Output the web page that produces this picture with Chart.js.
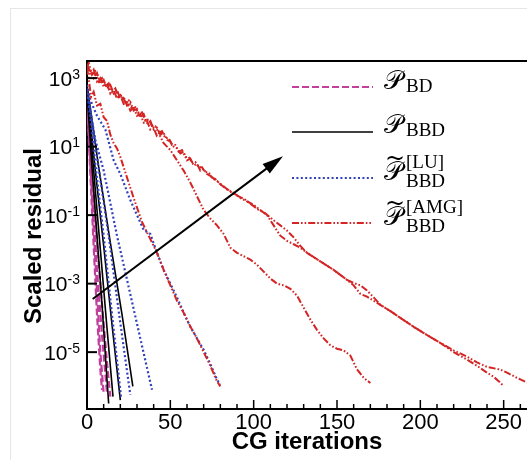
<!DOCTYPE html>
<html><head><meta charset="utf-8">
<script src="https://cdn.jsdelivr.net/npm/chart.js@4"></script>
<style>html,body{margin:0;padding:0;background:#fff;}</style>
</head><body>
<canvas id="c" width="527" height="460"></canvas>
<script>
// ---------- axes / ticks ----------
const xMin = 0, xMax = 264;
const yMinExp = -6.66, yMaxExp = 3.5;
const xTickValues = [0, 50, 100, 150, 200, 250];
const xMinorTicks = [10,20,30,40,60,70,80,90,110,120,130,140,160,170,180,190,210,220,230,240,260];
const yTickExponents = [3, 1, -1, -3, -5];
const xTitle = 'CG iterations';
const yTitle = 'Scaled residual';

// ---------- series: iterations and log10(scaled residual) ----------
// P_BD (magenta dashed)
const bdIters = [
  [0, 2, 4, 6, 8, 9],
  [0, 2, 4, 6, 8, 10],
  [0, 3, 6, 9, 12],
  [0, 3, 6, 9, 12, 14]
];
const bdLogRes = [
  [2.4, 0.2, -1.9, -3.9, -5.5, -6.1],
  [2.5, 0.5, -1.4, -3.2, -5.0, -6.2],
  [2.5, -0.1, -2.6, -4.5, -6.2],
  [2.6, 0.3, -1.8, -3.6, -5.3, -6.3]
];
// P_BBD (black solid)
const bbdIters = [
  [0, 3, 6, 9, 12, 13],
  [0, 4, 8, 12, 15.6],
  [0, 5, 10, 15, 20],
  [0, 7, 14, 21, 27.5]
];
const bbdLogRes = [
  [2.6, 0.4, -1.6, -3.6, -5.8, -6.5],
  [2.7, 0.3, -2.0, -4.3, -6.3],
  [2.7, 0.3, -1.9, -4.2, -6.4],
  [2.8, 0.4, -1.8, -3.9, -6.0]
];
// P~_BBD^[LU] (blue dotted)
const luIters = [
  [0, 5, 10, 15, 20.4],
  [0, 6, 13, 19, 26],
  [0, 5, 10, 18, 25, 32, 39],
  [0, 2, 6, 11, 16, 20, 26, 30, 34, 38, 42, 46, 50, 54, 58, 62, 66, 70, 74, 78, 80]
];
const luLogRes = [
  [2.7, 0.5, -1.6, -3.9, -6.3],
  [2.8, 0.7, -1.6, -3.8, -6.25],
  [2.6, 1.2, 0.3, -1.6, -3.1, -4.6, -6.1],
  [2.8, 2.36, 1.9, 1.5, 0.6, 0.2, -0.56, -1.0, -1.43, -1.55, -2.1, -2.6, -3.0, -3.4, -3.85, -4.26, -4.6, -4.93, -5.35, -5.8, -5.95]
];
// P~_BBD^[AMG] (red dash-dot-dot)
const amgIters = [
  [0,1,2.4,4,6,8,10,12,14,16,18,20,24,28,33,38,42,46,50,54,58,62,66,70,74,78,80],
  [0,2,4,6,8,10,12,14,16,18,20,22,24,26,28,30,32,34,36,38,40,42,44,46,48,50,
   54,58,62,66,70,74,78,82,86,90,94,98,102,106,110,114,118,122,126,130,134,138,142,146,150,154,158,162,166,170],
  [0,2,4,6,8,10,12,14,16,18,20,22,24,26,28,30,32,34,36,38,40,42,44,46,48,50,52,54,56,58,60,62,64,66,68,70,72,74,76,78,80,
   84,88,92,96,100,104,108,112,116,120,124,128,132,140,148,156,160,164,168,172,176,182,188,196,204,212,220,228,234,240,244,248,250],
  [0,1,3,5,7,9,11,13,15,17,19,21,23,25,27,29,31,33,35,37,39,41,43,45,47,49,51,53,55,57,59,61,63,65,67,69,71,73,75,77,79,
   83,87,91,95,99,103,107,112,116,120,124,128,132,140,148,156,160,164,168,172,176,182,188,196,204,212,220,228,234,240,248,252,258,264,268]
];
const amgLogRes = [
  [3.3,3.0,2.45,2.6,2.2,2.25,1.86,1.75,1.35,1.1,0.95,0.7,0.1,-0.5,-1.2,-1.7,-2.1,-2.6,-3.05,-3.5,-3.85,-4.25,-4.6,-5.0,-5.4,-5.85,-6.0],
  [3.4,3.1,3.25,2.9,3.0,2.75,2.85,2.55,2.65,2.4,2.5,2.25,2.3,2.05,2.15,1.9,1.95,1.7,1.75,1.5,1.55,1.3,1.3,1.1,1.0,0.9,
   0.6,0.3,-0.05,-0.45,-0.85,-1.1,-1.3,-1.55,-1.95,-2.1,-2.2,-2.3,-2.45,-2.65,-2.85,-3.0,-3.05,-3.15,-3.35,-3.7,-4.05,-4.35,-4.6,-4.8,-4.9,-4.95,-5.1,-5.5,-5.75,-5.9],
  [3.35,3.2,3.0,3.15,2.85,2.95,2.7,2.8,2.55,2.65,2.4,2.45,2.2,2.3,2.05,2.1,1.85,1.95,1.7,1.75,1.5,1.55,1.35,1.4,1.2,1.15,1.0,0.95,0.8,0.85,0.6,0.65,0.45,0.5,0.3,0.35,0.2,0.15,0.05,0.0,-0.1,
   -0.25,-0.35,-0.5,-0.6,-0.7,-0.85,-1.0,-1.3,-1.6,-1.75,-1.85,-1.95,-2.1,-2.35,-2.6,-2.89,-2.98,-3.05,-3.2,-3.4,-3.62,-3.8,-4.0,-4.26,-4.5,-4.73,-5.0,-5.22,-5.4,-5.6,-5.72,-5.89,-6.0],
  [3.3,3.45,3.1,3.2,2.9,3.0,2.75,2.85,2.6,2.7,2.45,2.5,2.3,2.35,2.1,2.15,1.95,2.0,1.75,1.8,1.6,1.6,1.4,1.45,1.25,1.25,1.05,1.05,0.85,0.9,0.7,0.7,0.55,0.55,0.4,0.4,0.25,0.25,0.1,0.05,-0.05,
   -0.2,-0.35,-0.45,-0.55,-0.7,-0.85,-0.95,-1.15,-1.3,-1.45,-1.65,-1.9,-2.1,-2.35,-2.6,-2.89,-3.05,-3.3,-3.38,-3.5,-3.62,-3.8,-4.0,-4.26,-4.5,-4.73,-4.95,-5.13,-5.3,-5.43,-5.51,-5.6,-5.75,-5.89,-6.0]
];

// arrow (increasing problem size): [iteration, log10 residual]
const arrowFrom = [3.4, -3.45];
const arrowTo = [117.6, 0.72];

// ---------- styles ----------
const SANS = '"Liberation Sans", Arial, Helvetica, sans-serif';
const SERIF = '"Liberation Serif", "Times New Roman", serif';
const styles = {
  bd:  { borderColor: '#c0409c', borderWidth: 2.2, borderDash: [7, 3] },
  bbd: { borderColor: '#000000', borderWidth: 1.6, borderDash: [] },
  lu:  { borderColor: '#3040bb', borderWidth: 2.2, borderDash: [2, 2.4] },
  amg: { borderColor: '#d42424', borderWidth: 2.0, borderDash: [7, 2, 1.6, 2, 1.6, 2] }
};
const legendEntries = [
  { key: 'bd',  lineY: 87,  pBase: 89,  tilde: false, sub: 'BD',  subBase: 92,  sup: '',      supBase: 0 },
  { key: 'bbd', lineY: 132, pBase: 133, tilde: false, sub: 'BBD', subBase: 136, sup: '',      supBase: 0 },
  { key: 'lu',  lineY: 178, pBase: 180, tilde: true,  sub: 'BBD', subBase: 187, sup: '[LU]',  supBase: 168 },
  { key: 'amg', lineY: 223, pBase: 225, tilde: true,  sub: 'BBD', subBase: 232, sup: '[AMG]', supBase: 213 }
];

function build(iters, logs, style) {
  return iters.map((xs, i) => Object.assign({
    data: xs.map((x, j) => ({ x: x, y: Math.pow(10, logs[i][j]) })),
    pointRadius: 0, tension: 0, fill: false, borderCapStyle: 'butt'
  }, style));
}
const datasets = [].concat(
  build(amgIters, amgLogRes, styles.amg),
  build(luIters, luLogRes, styles.lu),
  build(bbdIters, bbdLogRes, styles.bbd),
  build(bdIters, bdLogRes, styles.bd)
);

function seg(ctx, x1, y1, x2, y2) { ctx.beginPath(); ctx.moveTo(x1, y1); ctx.lineTo(x2, y2); ctx.stroke(); }

const overlay = {
  id: 'overlay',
  beforeDraw(chart) {
    const ctx = chart.ctx;
    ctx.save();
    ctx.strokeStyle = '#e6e6e6'; ctx.lineWidth = 1;
    seg(ctx, 10.5, 8, 10.5, 460);
    seg(ctx, 10, 8.5, 527, 8.5);
    ctx.restore();
  },
  afterDraw(chart) {
    const { ctx, chartArea: a, scales: { x, y } } = chart;
    ctx.save();
    ctx.strokeStyle = '#000'; ctx.fillStyle = '#000';
    // top frame
    ctx.lineWidth = 2;
    seg(ctx, a.left - 1, a.top, a.right, a.top);
    // inward ticks
    ctx.lineWidth = 1.5;
    xTickValues.forEach(v => { const p = x.getPixelForValue(v); seg(ctx, p, a.bottom, p, a.bottom - 9); });
    xMinorTicks.forEach(v => { const p = x.getPixelForValue(v); seg(ctx, p, a.bottom, p, a.bottom - 5); });
    ctx.lineWidth = 2;
    yTickExponents.forEach(e => { const p = y.getPixelForValue(Math.pow(10, e)); seg(ctx, a.left, p, a.left + 10, p); });
    // y tick labels 10^e
    yTickExponents.forEach(e => {
      const p = y.getPixelForValue(Math.pow(10, e));
      const es = (e < 0 ? '-' : '') + Math.abs(e);
      ctx.font = '14px ' + SANS;
      const ew = ctx.measureText(es).width;
      ctx.textBaseline = 'alphabetic';
      ctx.textAlign = 'left';
      ctx.fillText(es, 80 - ew, p + 0.5);
      ctx.font = '21px ' + SANS;
      ctx.textAlign = 'right';
      ctx.fillText('10', 80 - ew, p + 7.5);
    });
    // axis titles
    ctx.font = 'bold 24px ' + SANS;
    ctx.textAlign = 'center'; ctx.textBaseline = 'alphabetic';
    ctx.fillText(xTitle, (a.left + a.right) / 2, 449);
    ctx.save();
    ctx.translate(41, 236); ctx.rotate(-Math.PI / 2);
    ctx.fillText(yTitle, 0, 0);
    ctx.restore();
    // arrow
    const x1 = x.getPixelForValue(arrowFrom[0]), y1 = y.getPixelForValue(Math.pow(10, arrowFrom[1]));
    const x2 = x.getPixelForValue(arrowTo[0]), y2 = y.getPixelForValue(Math.pow(10, arrowTo[1]));
    const ang = Math.atan2(y2 - y1, x2 - x1), hl = 21, hw = 6;
    const bx = x2 - hl * Math.cos(ang), by = y2 - hl * Math.sin(ang);
    ctx.lineWidth = 2;
    seg(ctx, x1, y1, bx + 2 * Math.cos(ang), by + 2 * Math.sin(ang));
    ctx.beginPath();
    ctx.moveTo(x2, y2);
    ctx.lineTo(bx + hw * Math.sin(ang), by - hw * Math.cos(ang));
    ctx.lineTo(bx - hw * Math.sin(ang), by + hw * Math.cos(ang));
    ctx.closePath(); ctx.fill();
    // legend
    legendEntries.forEach(en => {
      const st = styles[en.key];
      ctx.save();
      ctx.strokeStyle = st.borderColor; ctx.lineWidth = st.borderWidth; ctx.setLineDash(st.borderDash);
      seg(ctx, 292, en.lineY, 373, en.lineY);
      ctx.restore();
      ctx.textAlign = 'left'; ctx.textBaseline = 'alphabetic';
      ctx.font = '26px "DejaVu Serif", "DejaVu Sans", serif';
      ctx.fillText('\u{1D4AB}', 384, en.pBase);
      if (en.tilde) {
        ctx.font = '24px "DejaVu Serif", serif';
        ctx.fillText('~', 385, en.pBase - 14);
      }
      ctx.font = '19px ' + SERIF;
      ctx.fillText(en.sub, 406, en.subBase);
      if (en.sup) ctx.fillText(en.sup, 406, en.supBase);
    });
    ctx.restore();
  }
};

new Chart(document.getElementById('c'), {
  type: 'line',
  data: { datasets: datasets },
  options: {
    responsive: false, animation: false, events: [],
    layout: { padding: { top: 61, right: 0, bottom: 0, left: 0 } },
    plugins: { legend: { display: false }, tooltip: { enabled: false }, title: { display: false } },
    scales: {
      x: {
        type: 'linear', min: xMin, max: xMax,
        afterBuildTicks(s) { s.ticks = xTickValues.map(v => ({ value: v })); },
        afterFit(s) { s.height = 51; },
        ticks: { font: { family: SANS, size: 22 }, color: '#000', padding: 1, maxRotation: 0, autoSkip: false },
        grid: { display: false, drawTicks: false },
        border: { display: true, color: '#000', width: 2 }
      },
      y: {
        type: 'logarithmic', min: Math.pow(10, yMinExp), max: Math.pow(10, yMaxExp),
        afterFit(s) { s.width = 87; },
        ticks: { display: false },
        grid: { display: false, drawTicks: false },
        border: { display: true, color: '#000', width: 2 }
      }
    }
  },
  plugins: [overlay]
});
</script>
</body></html>
